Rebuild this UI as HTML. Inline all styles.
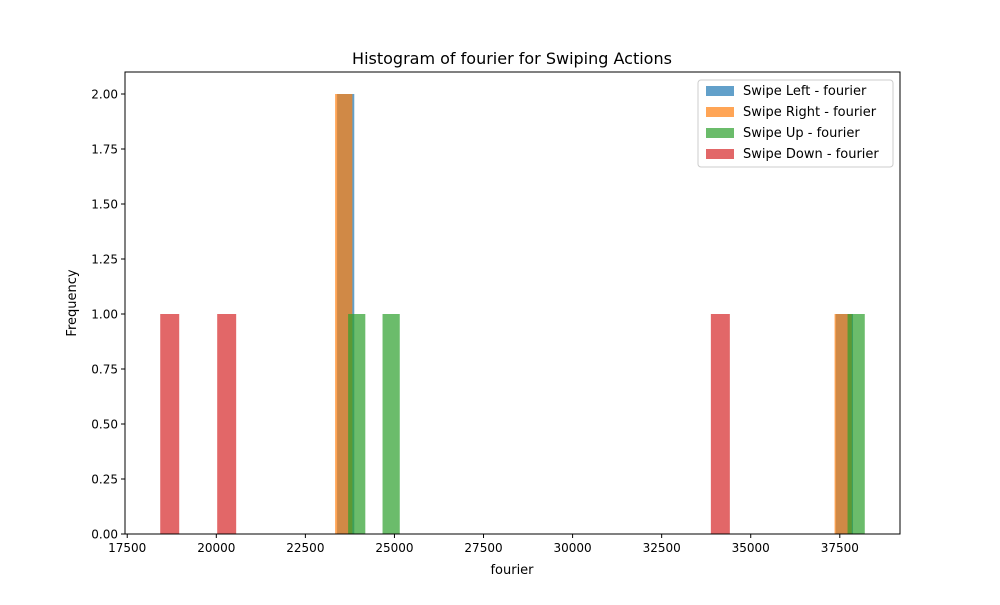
<!DOCTYPE html>
<html><head><meta charset="utf-8"><style>
body{margin:0;background:#fff;font-family:"Liberation Sans","DejaVu Sans",sans-serif}
svg text{font-family:"DejaVu Sans","Liberation Sans",sans-serif}
</style></head><body>
<svg id="chart" width="1000" height="600" xmlns="http://www.w3.org/2000/svg">
<rect width="1000" height="600" fill="#fff"/>
<text x="512" y="64" font-size="16" text-anchor="middle">Histogram of fourier for Swiping Actions</text>
<g id="bars"></g>
<rect x="125" y="72" width="775" height="462" fill="none" stroke="#000" stroke-width="1"/>
<g id="xticks"></g><g id="yticks"></g>
<text x="512" y="574" font-size="13" text-anchor="middle">fourier</text>
<text transform="translate(76,303) rotate(-90)" font-size="13" text-anchor="middle">Frequency</text>
<g id="legend"></g>
</svg>
<script>
const seriesNames=["Swipe Left - fourier","Swipe Right - fourier","Swipe Up - fourier","Swipe Down - fourier"];
const seriesColors=["#1f77b4","#ff7f0e","#2ca02c","#d62728"];
const swipeLeft=[23390,23450,37870];
const swipeRight=[23335,23400,37837];
const swipeUp=[23699,24700,38201];
const swipeDown=[18426,20025,34414];
const xTicks=[17500,20000,22500,25000,27500,30000,32500,35000,37500];
const yTicks=[0,0.25,0.5,0.75,1,1.25,1.5,1.75,2];
const NB=30;
const NS="http://www.w3.org/2000/svg";
const X0=125,X1=900,Y0=534,Y1=72;
const all=[...swipeLeft,...swipeRight,...swipeUp,...swipeDown];
const dmin=Math.min(...all),dmax=Math.max(...all),pad=(dmax-dmin)*0.05;
const xmin=dmin-pad,xmax=dmax+pad;
const series=[swipeLeft,swipeRight,swipeUp,swipeDown];
let maxc=0;const hists=series.map(v=>{const lo=Math.min(...v),hi=Math.max(...v),w=(hi-lo)/NB;const c=new Array(NB).fill(0);v.forEach(x=>{let i=Math.floor((x-lo)/w);if(i>=NB)i=NB-1;c[i]++;});maxc=Math.max(maxc,...c);return{lo,w,c};});
const ymax=maxc*1.05;
const sx=v=>X0+(v-xmin)/(xmax-xmin)*(X1-X0);
const sy=v=>Y0-v/ymax*(Y0-Y1);
const bars=document.getElementById('bars');
hists.forEach((h,s)=>{h.c.forEach((n,i)=>{if(!n)return;const r=document.createElementNS(NS,'rect');
const a=sx(h.lo+i*h.w),b=sx(h.lo+(i+1)*h.w);
r.setAttribute('x',a);r.setAttribute('width',b-a);r.setAttribute('y',sy(n));r.setAttribute('height',Y0-sy(n));
r.setAttribute('fill',seriesColors[s]);r.setAttribute('fill-opacity','0.7');


bars.appendChild(r);});});
const xt=document.getElementById('xticks');
xTicks.forEach(t=>{const x=sx(t);const l=document.createElementNS(NS,'line');l.setAttribute('x1',x);l.setAttribute('x2',x);l.setAttribute('y1',Y0);l.setAttribute('y2',Y0+4);l.setAttribute('stroke','#000');xt.appendChild(l);
const tx=document.createElementNS(NS,'text');tx.setAttribute('x',x);tx.setAttribute('y',Y0+18);tx.setAttribute('font-size','12');tx.setAttribute('text-anchor','middle');tx.textContent=t;


xt.appendChild(tx);});
const yt=document.getElementById('yticks');
yTicks.forEach(t=>{const y=sy(t);const l=document.createElementNS(NS,'line');l.setAttribute('x1',X0-4);l.setAttribute('x2',X0);l.setAttribute('y1',y);l.setAttribute('y2',y);l.setAttribute('stroke','#000');yt.appendChild(l);
const tx=document.createElementNS(NS,'text');tx.setAttribute('x',X0-7);tx.setAttribute('y',y+4.5);tx.setAttribute('font-size','12');tx.setAttribute('text-anchor','end');tx.textContent=t.toFixed(2);


yt.appendChild(tx);});
const lg=document.getElementById('legend');
const box=document.createElementNS(NS,'rect');box.setAttribute('x',698);box.setAttribute('y',80);box.setAttribute('width',195);box.setAttribute('height',87);box.setAttribute('rx',3);box.setAttribute('fill','#fff');box.setAttribute('fill-opacity','0.8');box.setAttribute('stroke','#ccc');lg.appendChild(box);
seriesNames.forEach((n,i)=>{const y=90+i*21;const r=document.createElementNS(NS,'rect');r.setAttribute('x',706);r.setAttribute('y',y-4);r.setAttribute('width',28);r.setAttribute('height',10);r.setAttribute('fill',seriesColors[i]);r.setAttribute('fill-opacity','0.7');


lg.appendChild(r);
const t=document.createElementNS(NS,'text');t.setAttribute('x',743);t.setAttribute('y',y+5);t.setAttribute('font-size','13');t.textContent=n;


lg.appendChild(t);});
</script>
</body></html>
